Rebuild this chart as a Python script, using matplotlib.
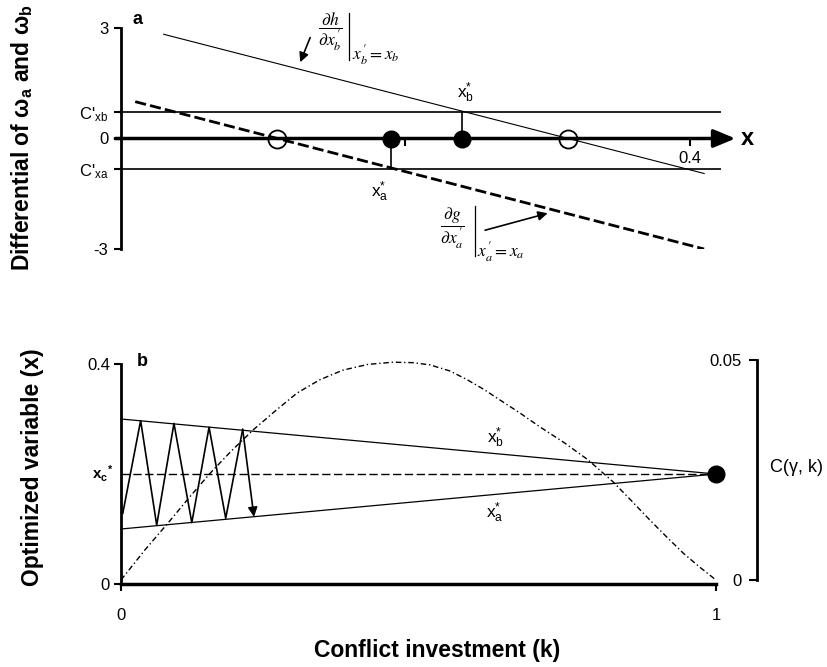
import matplotlib
matplotlib.use("Agg")
import matplotlib.pyplot as plt

plt.rcParams['font.family'] = ['Liberation Sans', 'DejaVu Sans']
plt.rcParams['mathtext.fontset'] = 'custom'
plt.rcParams['mathtext.rm'] = 'Liberation Sans'
plt.rcParams['mathtext.it'] = 'Liberation Sans:italic'
plt.rcParams['mathtext.bf'] = 'Liberation Sans:bold'

# ---------------- data: panel a ----------------
a_yticks = [-3, -0.83, 0, 0.72, 3]
a_yticklabels = ['-3', "C'$_\\mathrm{xa}$", '0', "C'$_\\mathrm{xb}$", '3']
a_xticks = [0.2, 0.4]
a_xticklabels = ['', '0.4']
c_xb = 0.72
c_xa = -0.83
c_line_x = [0.0, 0.421]
dh_x = [0.03, 0.41]
dh_y = [2.83, -0.95]
dg_x = [0.01, 0.41]
dg_y = [1.0, -3.0]
open_x = [0.11, 0.314]
xa_star = 0.19
xb_star = 0.24

# ---------------- data: panel b ----------------
k_ends = [0.0, 1.0]
xb_line = [0.3, 0.2]
xa_line = [0.1, 0.2]
xc_star = 0.2
zig_k = [0.003, 0.033, 0.060, 0.089, 0.119, 0.148, 0.176, 0.2045, 0.2235]
zig_x = [0.1285, 0.297, 0.107, 0.292, 0.1115, 0.285, 0.1194, 0.281, 0.122]
c_k = [0.0, 0.04, 0.079, 0.115, 0.150, 0.186, 0.222, 0.26, 0.296, 0.334, 0.373,
       0.415, 0.457, 0.49, 0.519, 0.553, 0.582, 0.61, 0.637, 0.67, 0.704, 0.745,
       0.785, 0.827, 0.858, 0.889, 0.917, 0.945, 0.972, 1.0]
c_val = [0.0, 0.0068, 0.01295, 0.0188, 0.0243, 0.0294, 0.0341, 0.0385, 0.0425,
         0.0455, 0.0477, 0.0490, 0.0495, 0.0494, 0.0489, 0.0475, 0.0455, 0.0433,
         0.0409, 0.0380, 0.0348, 0.0312, 0.0273, 0.0223, 0.0180, 0.0136, 0.0098,
         0.0061, 0.0030, 0.0]
b_yticks = [0, 0.4]
b_yticklabels = ['0', '0.4']
b_xticks = [0, 1]
b_xticklabels = ['0', '1']
c_ticks = [0, 0.05]
c_ticklabels = ['0', '0.05']

W, H = 828, 667
fig = plt.figure(figsize=(W / 100, H / 100), dpi=100)


def fr(l, t, r, b):
    return [l / W, (H - b) / H, (r - l) / W, (b - t) / H]


# ================= Panel a =================
axa = fig.add_axes(fr(121, 28, 761, 249))
axa.set_xlim(0, 0.45)
axa.set_ylim(-3, 3)
for s in ['top', 'right']:
    axa.spines[s].set_visible(False)
axa.spines['left'].set_linewidth(2)
axa.spines['left'].set_bounds(-3, 3)
axa.spines['bottom'].set_position(('data', 0))
axa.spines['bottom'].set_color('none')
axa.set_yticks(a_yticks)
axa.set_yticklabels(a_yticklabels)
axa.set_xticks(a_xticks)
axa.set_xticklabels(a_xticklabels)
axa.tick_params(axis='y', direction='out', length=5, width=1.5, labelsize=12, pad=4)
axa.tick_params(axis='x', direction='out', length=5, width=1.5, labelsize=12, pad=4)

axa.plot(c_line_x, [c_xb, c_xb], color='#222222', lw=1.4, zorder=2)
axa.plot(c_line_x, [c_xa, c_xa], color='#222222', lw=1.4, zorder=2)
axa.plot(dh_x, dh_y, color='k', lw=0.8, zorder=3)
axa.plot(dg_x, dg_y, color='k', lw=2.0, ls=(0, (4, 1.5)), zorder=3)
axa.annotate('', xy=(0.432, 0), xytext=(-0.004, 0),
             arrowprops=dict(arrowstyle='-|>,head_length=0.6,head_width=0.25',
                             lw=2.5, color='k', shrinkA=0, shrinkB=0,
                             mutation_scale=22), zorder=4)
axa.text(0.436, 0, 'x', fontsize=17, fontweight='bold', ha='left', va='center')
axa.plot([xa_star, xa_star], [0, c_xa], color='k', lw=1.2, zorder=4)
axa.plot([xb_star, xb_star], [0, c_xb], color='k', lw=1.2, zorder=4)
axa.plot(open_x, [0, 0], 'o', ms=13, mfc='none', mec='k', mew=1.3, zorder=5)
axa.plot([xa_star, xb_star], [0, 0], 'o', ms=12, color='k', zorder=5)

axa.text(0.008, 3.23, 'a', fontsize=13, fontweight='bold', ha='left', va='center')
axa.text(0.2426, 1.25, 'x$_\\mathrm{b}^{*}$', fontsize=12.5, ha='center', va='center')
axa.text(0.182, -1.44, 'x$_\\mathrm{a}^{*}$', fontsize=12.5, ha='center', va='center')

# derivative annotations (fraction, evaluation bar, subscript)
axa.text(0.1385, 2.88, r"$\dfrac{\partial h}{\partial x_b^{\,\prime}}$", fontsize=12.5,
         ha='left', va='center', math_fontfamily='stix')
axa.plot([0.1606, 0.1606], [3.42, 2.12], color='k', lw=0.9, clip_on=False)
axa.text(0.1625, 2.27, r"$x_b^{\,\prime}= x_b$", fontsize=12.5, ha='left', va='center',
         math_fontfamily='stix')
axa.text(0.2245, -2.45, r"$\dfrac{\partial g}{\partial x_a^{\,\prime}}$", fontsize=12.5,
         ha='left', va='center', math_fontfamily='stix')
axa.plot([0.2487, 0.2487], [-1.83, -3.18], color='k', lw=0.9, clip_on=False)
axa.text(0.2506, -3.08, r"$x_a^{\,\prime}= x_a$", fontsize=12.5, ha='left', va='center',
         math_fontfamily='stix')
axa.annotate('', xy=(0.126, 2.07), xytext=(0.133, 2.74),
             arrowprops=dict(arrowstyle='-|>', lw=1.2, color='k', shrinkA=0,
                             shrinkB=0, mutation_scale=14))
axa.annotate('', xy=(0.300, -2.03), xytext=(0.256, -2.49),
             arrowprops=dict(arrowstyle='-|>', lw=1.2, color='k', shrinkA=0,
                             shrinkB=0, mutation_scale=14))

fig.text(22 / W, (H - 138) / H, 'Differential of ω$_\\mathbf{a}$ and ω$_\\mathbf{b}$',
         rotation=90, fontsize=16.5, fontweight='bold', ha='center', va='center')

# ================= Panel b =================
bl, bt, br, bb = 121, 364, 716, 584
axb = fig.add_axes(fr(bl, bt, br, bb))
axb.set_xlim(0, 1)
axb.set_ylim(0, 0.4)
for s in ['top', 'right']:
    axb.spines[s].set_visible(False)
axb.spines['left'].set_linewidth(2)
axb.spines['bottom'].set_linewidth(2.5)
axb.set_yticks(b_yticks)
axb.set_yticklabels(b_yticklabels)
axb.set_xticks(b_xticks)
axb.set_xticklabels(b_xticklabels)
axb.tick_params(axis='y', direction='out', length=5, width=1.5, labelsize=12, pad=3)
axb.tick_params(axis='x', direction='out', length=5, width=1.5, labelsize=12, pad=12)

axb.plot(k_ends, xb_line, color='k', lw=0.9, clip_on=False)
axb.plot(k_ends, xa_line, color='k', lw=0.9, clip_on=False)
axb.plot(k_ends, [xc_star, xc_star], color='k', lw=1.0, ls=(0, (6, 2.5)), clip_on=False)
axb.plot(zig_k[:-1], zig_x[:-1], color='k', lw=1.2, clip_on=False)
axb.annotate('', xy=(zig_k[-1], zig_x[-1]), xytext=(zig_k[-2], zig_x[-2]),
             arrowprops=dict(arrowstyle='-|>', lw=1.2, color='k', shrinkA=0,
                             shrinkB=0, mutation_scale=14))
axb.plot([1.0], [xc_star], 'o', ms=12, color='k', clip_on=False, zorder=5)

axb.text(0.026, 0.405, 'b', fontsize=13, fontweight='bold', ha='left', va='center')
axb.text(0.629, 0.265, 'x$_\\mathrm{b}^{*}$', fontsize=12.5, ha='center', va='center')
axb.text(0.629, 0.129, 'x$_\\mathrm{a}^{*}$', fontsize=12.5, ha='center', va='center')
axb.text(-0.0134, xc_star, r'$\mathbf{x_c}^{\mathbf{*}}$', transform=axb.get_yaxis_transform(),
         fontsize=11, ha='right', va='center')

c_top, c_bot = 360, 580
ax3 = fig.add_axes(fr(757, c_top, 758, c_bot))
ax3.set_ylim(0, 0.05)
ax3.set_xticks([])
for s in ['top', 'right', 'bottom']:
    ax3.spines[s].set_visible(False)
ax3.patch.set_alpha(0)
ax3.spines['left'].set_linewidth(2)
ax3.set_yticks(c_ticks)
ax3.set_yticklabels(c_ticklabels)
ax3.tick_params(axis='y', direction='out', length=6, width=1.5, labelsize=12, pad=5)
fig.text(770 / W, (H - 468) / H, 'C(γ, k)', fontsize=13, ha='left', va='center')

ax2 = axb.twinx()
scale = 0.05 / (c_bot - c_top)
ax2.set_ylim(-(bb - c_bot) * scale, 0.05 + (c_top - bt) * scale)
ax2.axis('off')
ax2.plot(c_k, c_val, color='k', lw=1.0, ls=(0, (4, 2, 1, 2)), clip_on=False)

fig.text(33 / W, (H - 467) / H, 'Optimized variable (x)', rotation=90, fontsize=16.5,
         fontweight='bold', ha='center', va='center')
fig.text(437 / W, (H - 650) / H, 'Conflict investment (k)', fontsize=16.5,
         fontweight='bold', ha='center', va='center')

fig.savefig('out.png', dpi=100)
